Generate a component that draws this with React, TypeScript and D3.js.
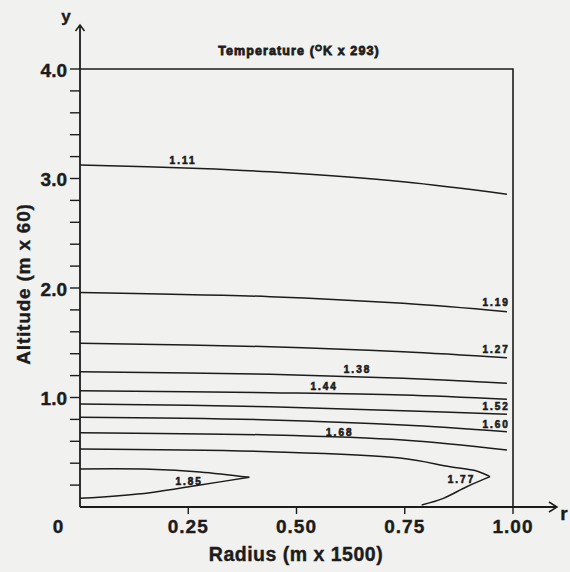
import React from 'react';
import * as d3 from 'd3';

// contour lines, [radius, altitude] in chart units
const contourValues = ['1.11', '1.19', '1.27', '1.38', '1.44', '1.52', '1.60', '1.68', '1.77', '1.85'];

const contour111 = [[0, 3.123], [0.277, 3.092], [0.439, 3.061], [0.746, 2.97], [0.986, 2.856]];
const contour119 = [[0, 1.96], [0.439, 1.921], [0.746, 1.86], [0.986, 1.784]];
const contour127 = [[0, 1.495], [0.439, 1.464], [0.746, 1.418], [0.986, 1.364]];
const contour138 = [[0, 1.235], [0.439, 1.212], [0.746, 1.175], [0.986, 1.13]];
const contour144 = [[0, 1.062], [0.439, 1.044], [0.746, 1.023], [0.986, 0.984]];
const contour152 = [[0, 0.941], [0.439, 0.916], [0.746, 0.879], [0.986, 0.847]];
const contour160 = [[0, 0.819], [0.439, 0.795], [0.746, 0.749], [0.986, 0.688]];
const contour168 = [[0, 0.679], [0.439, 0.658], [0.746, 0.612], [0.986, 0.521]];
// the two loops: upper arm out to the tip, then lower arm back
const contour177 = [
  [[0, 0.53], [0.439, 0.505], [0.739, 0.447], [0.855, 0.368], [0.916, 0.329], [0.947, 0.277]],
  [[0.947, 0.277], [0.893, 0.185], [0.839, 0.079], [0.789, 0.018]],
];
const contour185 = [
  [[0, 0.347], [0.162, 0.345], [0.277, 0.32], [0.391, 0.271]],
  [[0.391, 0.271], [0.277, 0.201], [0.162, 0.131], [0, 0.079]],
];

// where each value is written, [radius, altitude] of the text baseline
const labelAnchors = [
  [0.238, 3.13], [0.961, 1.836], [0.961, 1.406], [0.641, 1.224], [0.564, 1.068],
  [0.961, 0.886], [0.961, 0.721], [0.6, 0.648], [0.881, 0.219], [0.252, 0.201],
];

const xTickLabels = ['0.25', '0.50', '0.75', '1.00'];
const yTickLabels = ['1.0', '2.0', '3.0', '4.0'];

const font = '"Liberation Sans", Arial, Helvetica, sans-serif';
const ink = '#1c1c1c';

export default function App() {
  const width = 570;
  const height = 572;

  const x = d3.scaleLinear().domain([0, 1]).range([80, 513]);
  const y = d3.scaleLinear().domain([0, 4]).range([507, 69]);

  const line = d3.line<number[]>()
    .x(d => x(d[0]))
    .y(d => y(d[1]))
    .curve(d3.curveCatmullRom.alpha(0.5));

  const segments = [
    contour111, contour119, contour127, contour138, contour144,
    contour152, contour160, contour168, ...contour177, ...contour185,
  ];

  const yMinor = y.ticks(16);

  return (
    <svg width={width} height={height}
         style={{ position: 'absolute', left: 0, top: 0, background: '#f1f1ef' }}
         fontFamily={font}>

      {/* frame: top and right edges */}
      <path d={`M${x(0)},${y(4)}H${x(1)}V${y(0)}`} fill="none" stroke={ink} strokeWidth={1.6} />

      {/* y axis with arrow */}
      <line x1={x(0)} x2={x(0)} y1={y(0)} y2={25} stroke={ink} strokeWidth={1.8} />
      <path d={`M${x(0) - 4.5},31L${x(0)},25L${x(0) + 4.5},31`} fill="none" stroke={ink} strokeWidth={1.5} />
      <text x={66} y={22} fontSize={17} fontWeight="bold" textAnchor="middle" fill={ink}
            stroke={ink} strokeWidth={0.4}>y</text>

      {/* x axis with arrow */}
      <line x1={x(0)} x2={557} y1={y(0)} y2={y(0)} stroke={ink} strokeWidth={1.8} />
      <path d={`M549,${y(0) - 5}L557,${y(0)}L549,${y(0) + 5}`} fill="none" stroke={ink} strokeWidth={1.5} />
      <text x={564} y={520} fontSize={19} fontWeight="bold" textAnchor="middle" fill={ink}
            stroke={ink} strokeWidth={0.4}>r</text>

      {yMinor.filter(v => v > 0).map(v => (
        <line key={v} x1={x(0) - 10} x2={x(0)} y1={y(v)} y2={y(v)} stroke={ink} strokeWidth={1.4} />
      ))}
      {yTickLabels.map(t => (
        <text key={t} x={67} y={y(+t) + 7.5} fontSize={19} fontWeight="bold"
              textAnchor="end" fill={ink} stroke={ink} strokeWidth={0.4}>{t}</text>
      ))}

      {xTickLabels.map(t => (
        <g key={t}>
          <line x1={x(+t)} x2={x(+t)} y1={y(0)} y2={y(0) + 7} stroke={ink} strokeWidth={1.4} />
          <text x={x(+t)} y={533} fontSize={19} fontWeight="bold" letterSpacing={1}
                textAnchor="middle" fill={ink} stroke={ink} strokeWidth={0.4}>{t}</text>
        </g>
      ))}
      <text x={58} y={533} fontSize={19} fontWeight="bold" textAnchor="middle" fill={ink}
            stroke={ink} strokeWidth={0.4}>0</text>

      {segments.map((s, i) => (
        <path key={i} d={line(s as number[][]) || ''} fill="none" stroke={ink} strokeWidth={1.5} />
      ))}

      {contourValues.map((v, i) => (
        <text key={v} x={x(labelAnchors[i][0])} y={y(labelAnchors[i][1])} fontSize={10}
              fontWeight="bold" letterSpacing={2} textAnchor="middle" fill={ink}
              stroke={ink} strokeWidth={0.6}>{v}</text>
      ))}

      <text x={299} y={55} fontSize={12.5} fontWeight="bold" letterSpacing={1.1}
            textAnchor="middle" fill={ink} stroke={ink} strokeWidth={0.8}>
        Temperature (<tspan fontSize={9} dy={-4}>O</tspan><tspan dy={4}>K x 293)</tspan>
      </text>

      <text transform={`translate(30,284) rotate(-90)`} fontSize={19} fontWeight="bold"
            letterSpacing={0.8} textAnchor="middle" fill={ink}
            stroke={ink} strokeWidth={0.4}>Altitude (m x 60)</text>
      <text x={296} y={561} fontSize={19.5} fontWeight="bold" letterSpacing={0.5}
            textAnchor="middle" fill={ink} stroke={ink} strokeWidth={0.4}>Radius (m x 1500)</text>
    </svg>
  );
}
